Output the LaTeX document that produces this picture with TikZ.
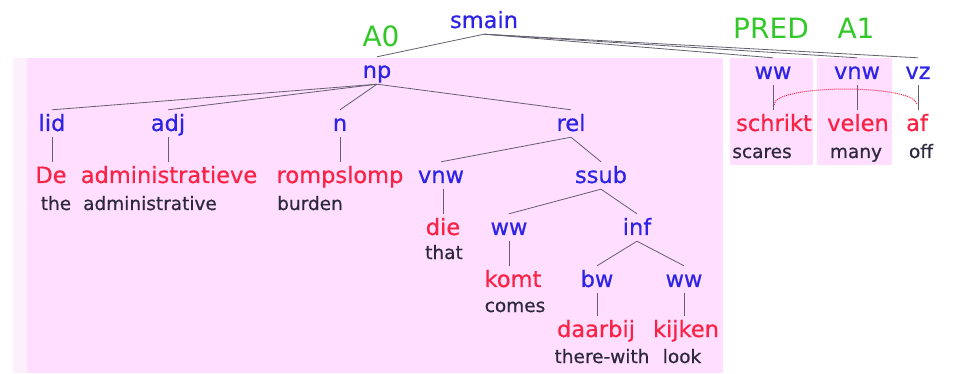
\documentclass[tikz,border=0pt]{standalone}
\usepackage{fontspec}
\setmainfont{DejaVu Sans}
\newfontfamily\treefont[FakeBold=0.6]{DejaVu Sans}
\definecolor{catblue}{RGB}{45,35,230}
\definecolor{wordred}{RGB}{250,35,70}
\definecolor{glossgray}{RGB}{45,40,60}
\definecolor{rolegreen}{RGB}{50,200,40}
\definecolor{pinkbg}{RGB}{255,222,255}
\definecolor{pinkfaint}{RGB}{253,240,253}
\definecolor{edgegray}{RGB}{100,95,110}
\begin{document}
\begin{tikzpicture}[x=1pt,y=-1pt,
  lbl/.style={anchor=base, inner xsep=1pt, inner ysep=2pt, text height=19pt, text depth=4pt},
  cat/.style={lbl, text=catblue, font=\treefont\fontsize{22.5}{27}\selectfont},
  word/.style={lbl, text=wordred, font=\treefont\fontsize{22.5}{27}\selectfont},
  gloss/.style={anchor=base, inner sep=1pt, text=glossgray, font=\treefont\fontsize{18.5}{22}\selectfont},
  role/.style={anchor=base, inner sep=0pt, text=rolegreen, font=\fontsize{28}{32}\selectfont},
  edge/.style={draw=edgegray, line width=0.8pt},
  link/.style={draw=wordred, densely dotted, line width=1pt}]
\useasboundingbox (0,0) rectangle (956,374);

% shaded argument spans
\fill[pinkfaint] (13,58) rectangle (27,373);
\fill[pinkbg] (27,58) rectangle (723,373);
\fill[pinkbg] (730,58) rectangle (813,165);
\fill[pinkbg] (817,58) rectangle (892,165);

% semantic role labels
\node[role] (a0) at (381,47) {A0};
\node[role] (pred) at (771,39) {PRED};
\node[role] (a1) at (856,39) {A1};

% root
\node[cat] (smain) at (484,28) {smain};

% subject noun phrase
\node[cat] (np) at (377,78) {np};
\node[cat] (lid) at (52,131) {lid};
\node[cat] (adj) at (168,131) {adj};
\node[cat] (n) at (340,131) {n};
\node[cat] (rel) at (571,131) {rel};
\node[word] (de) at (51,183) {De};
\node[word] (admin) at (169,183) {administratieve};
\node[word] (romp) at (340,183) {rompslomp};
\node[gloss] (gde) at (56,210) {the};
\node[gloss] (gadmin) at (150,210) {administrative};
\node[gloss] (gromp) at (310,210) {burden};

% relative clause
\node[cat] (vnw) at (441,183) {vnw};
\node[cat] (ssub) at (601,183) {ssub};
\node[word] (die) at (443,235) {die};
\node[gloss] (gdie) at (444,259) {that};
\node[cat] (ww) at (509,235) {ww};
\node[cat] (inf) at (637,235) {inf};
\node[word] (komt) at (513,287) {komt};
\node[gloss] (gkomt) at (515,312) {comes};
\node[cat] (bw) at (597,287) {bw};
\node[cat] (wwb) at (684,287) {ww};
\node[word] (daarbij) at (596,337) {daarbij};
\node[word] (kijken) at (686,337) {kijken};
\node[gloss] (gdaarbij) at (602,363) {there-with};
\node[gloss] (gkijken) at (682,363) {look};

% main verb, object and particle
\node[cat] (rww) at (773,79) {ww};
\node[cat] (rvnw) at (857,79) {vnw};
\node[cat] (vz) at (918,79) {vz};
\node[word] (schrikt) at (774,131) {schrikt};
\node[word] (velen) at (858,131) {velen};
\node[word] (af) at (917,131) {af};
\node[gloss] (gschrikt) at (762,158) {scares};
\node[gloss] (gvelen) at (856,158) {many};
\node[gloss] (gaf) at (921,158) {off};

% tree edges
\path[edge] (smain.south) -- (np.north);
\path[edge] (smain.south) -- (rww.north);
\path[edge] (smain.south) -- (rvnw.north);
\path[edge] (smain.south) -- (vz.north);

\path[edge] (np.south) -- (lid.north);
\path[edge] (np.south) -- (adj.north);
\path[edge] (np.south) -- (n.north);
\path[edge] (np.south) -- (rel.north);
\path[edge] (lid.south) -- (lid.south |- de.north);
\path[edge] (adj.south) -- (adj.south |- admin.north);
\path[edge] (n.south) -- (n.south |- romp.north);

\path[edge] (rel.south) -- (vnw.north);
\path[edge] (rel.south) -- (ssub.north);
\path[edge] (die.north |- vnw.south) -- (die.north);
\path[edge] (ssub.south) -- (ww.north);
\path[edge] (ssub.south) -- (inf.north);
\path[edge] (ww.south) -- (ww.south |- komt.north);
\path[edge] (inf.south) -- (bw.north);
\path[edge] (inf.south) -- (wwb.north);
\path[edge] (bw.south) -- (bw.south |- daarbij.north);
\path[edge] (wwb.south) -- (wwb.south |- kijken.north);

\path[edge] (rww.south) -- (rww.south |- schrikt.north);
\path[edge] (rvnw.south) -- (rvnw.south |- velen.north);
\path[edge] (vz.south) -- (vz.south |- af.north);

% separable verb link
\path[link] ([yshift=5pt]schrikt.north) .. controls +(0,-21) and +(0,-21) .. ([yshift=5pt]af.north);
\end{tikzpicture}
\end{document}
